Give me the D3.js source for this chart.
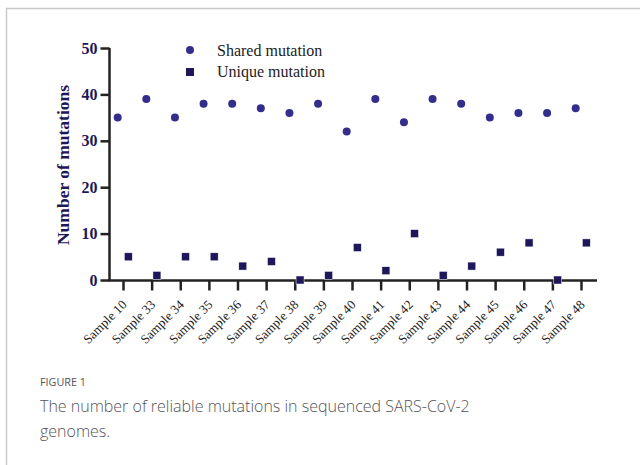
<!DOCTYPE html>
<html>
<head>
<meta charset="utf-8">
<script src="https://cdn.jsdelivr.net/npm/d3@7"></script>
<style>
  body { margin: 0; background: #fff; }
  svg { display: block; }
</style>
</head>
<body>
<svg id="chart" width="640" height="465"></svg>
<script>
const samples = ["Sample 10", "Sample 33", "Sample 34", "Sample 35", "Sample 36", "Sample 37", "Sample 38",
  "Sample 39", "Sample 40", "Sample 41", "Sample 42", "Sample 43", "Sample 44", "Sample 45",
  "Sample 46", "Sample 47", "Sample 48"];
const shared = [35, 39, 35, 38, 38, 37, 36, 38, 32, 39, 34, 39, 38, 35, 36, 36, 37];
const unique = [5, 1, 5, 5, 3, 4, 0, 1, 7, 2, 10, 1, 3, 6, 8, 0, 8];
const yTicks = [0, 10, 20, 30, 40, 50];

const svg = d3.select("#chart");

// card border
svg.append("path")
  .attr("d", "M6.5,465 V8.5 H640")
  .attr("fill", "none")
  .attr("stroke", "#c9c9c9")
  .attr("stroke-width", 1.5);

const x = d3.scalePoint()
  .domain(samples)
  .range([123, 581]);

const y = d3.scaleLinear()
  .domain([0, 50])
  .range([280, 48]);

const navy = "#1e1759";
const circleCol = "#332e8c";

// y axis
const yAxis = svg.append("g")
  .attr("transform", "translate(109.5,0)")
  .call(d3.axisLeft(y).tickValues(yTicks).tickSize(9).tickPadding(3));
yAxis.select(".domain").attr("d", "M0,48 V281").attr("stroke", "#222").attr("stroke-width", 2.5);
yAxis.selectAll(".tick line").attr("stroke", "#222").attr("stroke-width", 2.5);
yAxis.selectAll(".tick text")
  .attr("font-family", "Liberation Serif, Times New Roman, serif")
  .attr("font-weight", "bold")
  .attr("font-size", 16)
  .attr("fill", navy);

// x axis
const xAxis = svg.append("g")
  .attr("transform", "translate(0,280.5)")
  .call(d3.axisBottom(x).tickSize(10).tickSizeOuter(0));
xAxis.select(".domain").attr("d", "M108.3,0 H597").attr("stroke", "#222").attr("stroke-width", 2.5);
xAxis.selectAll(".tick line").attr("stroke", "#222").attr("stroke-width", 2.5);
xAxis.selectAll(".tick text")
  .attr("font-family", "Liberation Serif, Times New Roman, serif")
  .attr("font-size", 13)
  .attr("fill", "#222")
  .attr("text-anchor", "end")
  .attr("x", 0)
  .attr("y", 0)
  .attr("dy", 0)
  .attr("transform", "translate(4,25) rotate(-45)");

// axis title
svg.append("text")
  .attr("transform", "translate(69,165) rotate(-90)")
  .attr("text-anchor", "middle")
  .attr("font-family", "Liberation Serif, Times New Roman, serif")
  .attr("font-weight", "bold")
  .attr("font-size", 17.5)
  .attr("fill", navy)
  .text("Number of mutations");

// shared points
svg.append("g").selectAll("circle")
  .data(shared)
  .join("circle")
  .attr("cx", (d, i) => x(samples[i]) - 5.3)
  .attr("cy", d => y(d))
  .attr("r", 4)
  .attr("fill", circleCol);

// unique points
svg.append("g").selectAll("rect")
  .data(unique)
  .join("rect")
  .attr("x", (d, i) => x(samples[i]) + 5.3 - 4)
  .attr("y", d => y(d) - 4)
  .attr("width", 8)
  .attr("height", 8)
  .attr("fill", navy)
  .attr("stroke", "#fff")
  .attr("stroke-width", 0.5);

// legend
const legend = svg.append("g")
  .attr("font-family", "Liberation Serif, Times New Roman, serif")
  .attr("font-size", 16)
  .attr("fill", "#222");
legend.append("circle").attr("cx", 190).attr("cy", 50).attr("r", 4).attr("fill", circleCol);
legend.append("text").attr("x", 217).attr("y", 55.5).text("Shared mutation");
legend.append("rect").attr("x", 186).attr("y", 68).attr("width", 8).attr("height", 8).attr("fill", navy);
legend.append("text").attr("x", 217).attr("y", 77).text("Unique mutation");

// caption
svg.append("text")
  .attr("x", 40).attr("y", 386)
  .attr("font-family", "Open Sans, sans-serif")
  .attr("font-size", 10.8)
  .attr("fill", "#555")
  .text("FIGURE 1");
const cap = svg.append("text")
  .attr("font-family", "Open Sans, sans-serif")
  .attr("font-size", 16)
  .attr("font-weight", 300)
  .attr("fill", "#555");
cap.append("tspan").attr("x", 40).attr("y", 412).text("The number of reliable mutations in sequenced SARS-CoV-2");
cap.append("tspan").attr("x", 40).attr("y", 437).text("genomes.");
</script>
</body>
</html>
